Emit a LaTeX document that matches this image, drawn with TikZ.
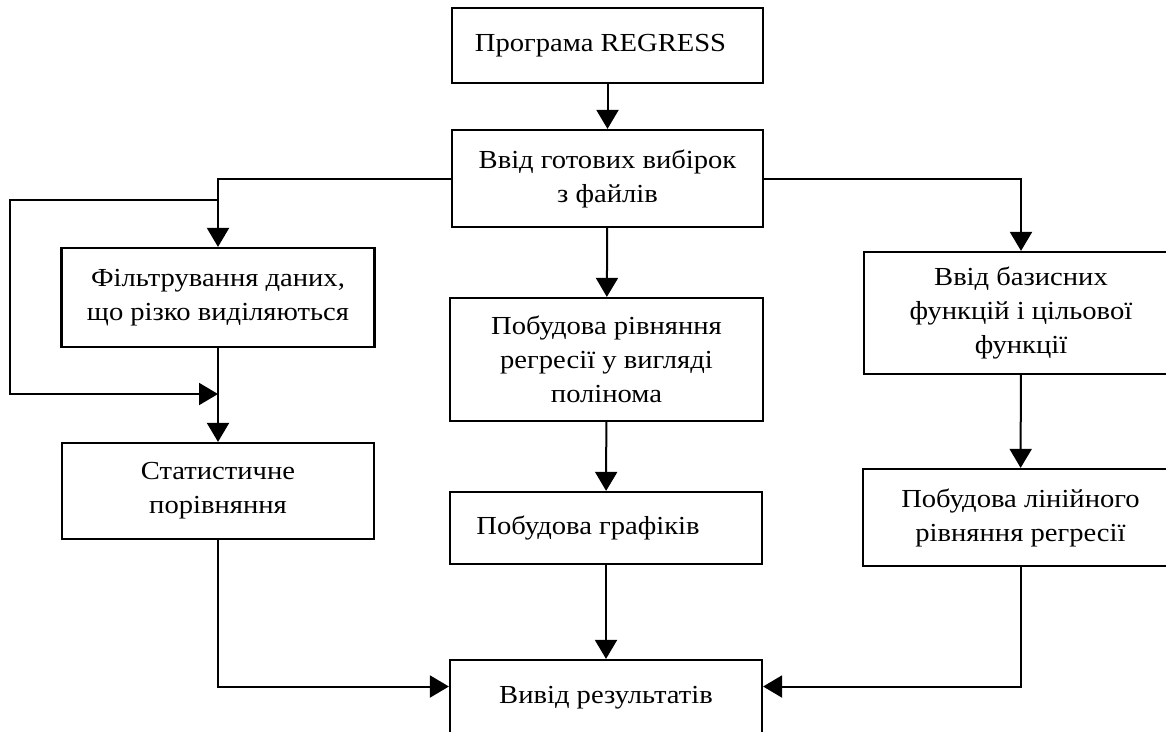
\documentclass[tikz,border=0pt]{standalone}
\usepackage{fontspec}
\setmainfont{Liberation Serif}[FakeStretch=1.1]
\usetikzlibrary{arrows.meta}

\begin{document}
\begin{tikzpicture}[x=1pt,y=-1pt,
    blok/.style={draw,line width=2.2pt,inner sep=0pt,align=center,
      font=\fontsize{26}{34}\selectfont},
    strilka/.style={line width=2pt,-{Triangle[length=19pt,width=22pt]}}]
  \useasboundingbox (0,0) rectangle (1166,731);
  \clip (0,0) rectangle (1166,731);
  \fill[white] (0,0) rectangle (1166,731);

  \node[blok,minimum width=311pt,minimum height=75pt] (prog) at (607.5,45.5) {Програма REGRESS\hspace*{14pt}};
  \node[blok,minimum width=311pt,minimum height=97pt] (vvid) at (607.5,178.5) {Ввід готових вибірок\\з файлів};
  \node[blok,minimum width=313pt,minimum height=99pt] (filtr) at (218,297.5) {Фільтрування даних,\\що різко виділяються};
  \node[blok,minimum width=312pt,minimum height=96pt] (stat) at (218,491) {Статистичне\\порівняння};
  \node[blok,minimum width=313pt,minimum height=123pt] (poly) at (606.5,359.5) {Побудова рівняння\\регресії у вигляді\\полінома};
  \node[blok,minimum width=312pt,minimum height=72pt] (graf) at (606,528) {Побудова графіків\hspace*{36pt}};
  \node[blok,minimum width=312pt,minimum height=75pt] (rez) at (606,697.5) {Вивід результатів};
  \node[blok,minimum width=314pt,minimum height=122pt] (baz) at (1021,313) {Ввід базисних\\функцій і цільової\\функції};
  \node[blok,minimum width=315pt,minimum height=97pt] (lin) at (1020.5,517.5) {Побудова лінійного\\рівняння регресії};

  \coordinate (v1) at (218,200);
  \coordinate (v2) at (218,394);
  \coordinate (lv) at (10,200);
  \coordinate (ln) at (10,394);

  \draw[strilka] (prog) -- (vvid);
  \draw[strilka] (vvid) -- (poly);
  \draw[strilka] (poly) -- (graf);
  \draw[strilka] (graf) -- (rez);
  \draw[strilka] (vvid.west) -| (filtr.north);
  \draw[strilka] (vvid.east) -| (baz.north);
  \draw[strilka] (v1) -- (lv) -- (ln) -- (v2);
  \draw[strilka] (filtr) -- (stat);
  \draw[strilka] (baz) -- (lin);
  \draw[strilka] (stat.south) |- ([yshift=11pt]rez.west);
  \draw[strilka] (lin.south) |- ([yshift=11pt]rez.east);
\end{tikzpicture}
\end{document}
